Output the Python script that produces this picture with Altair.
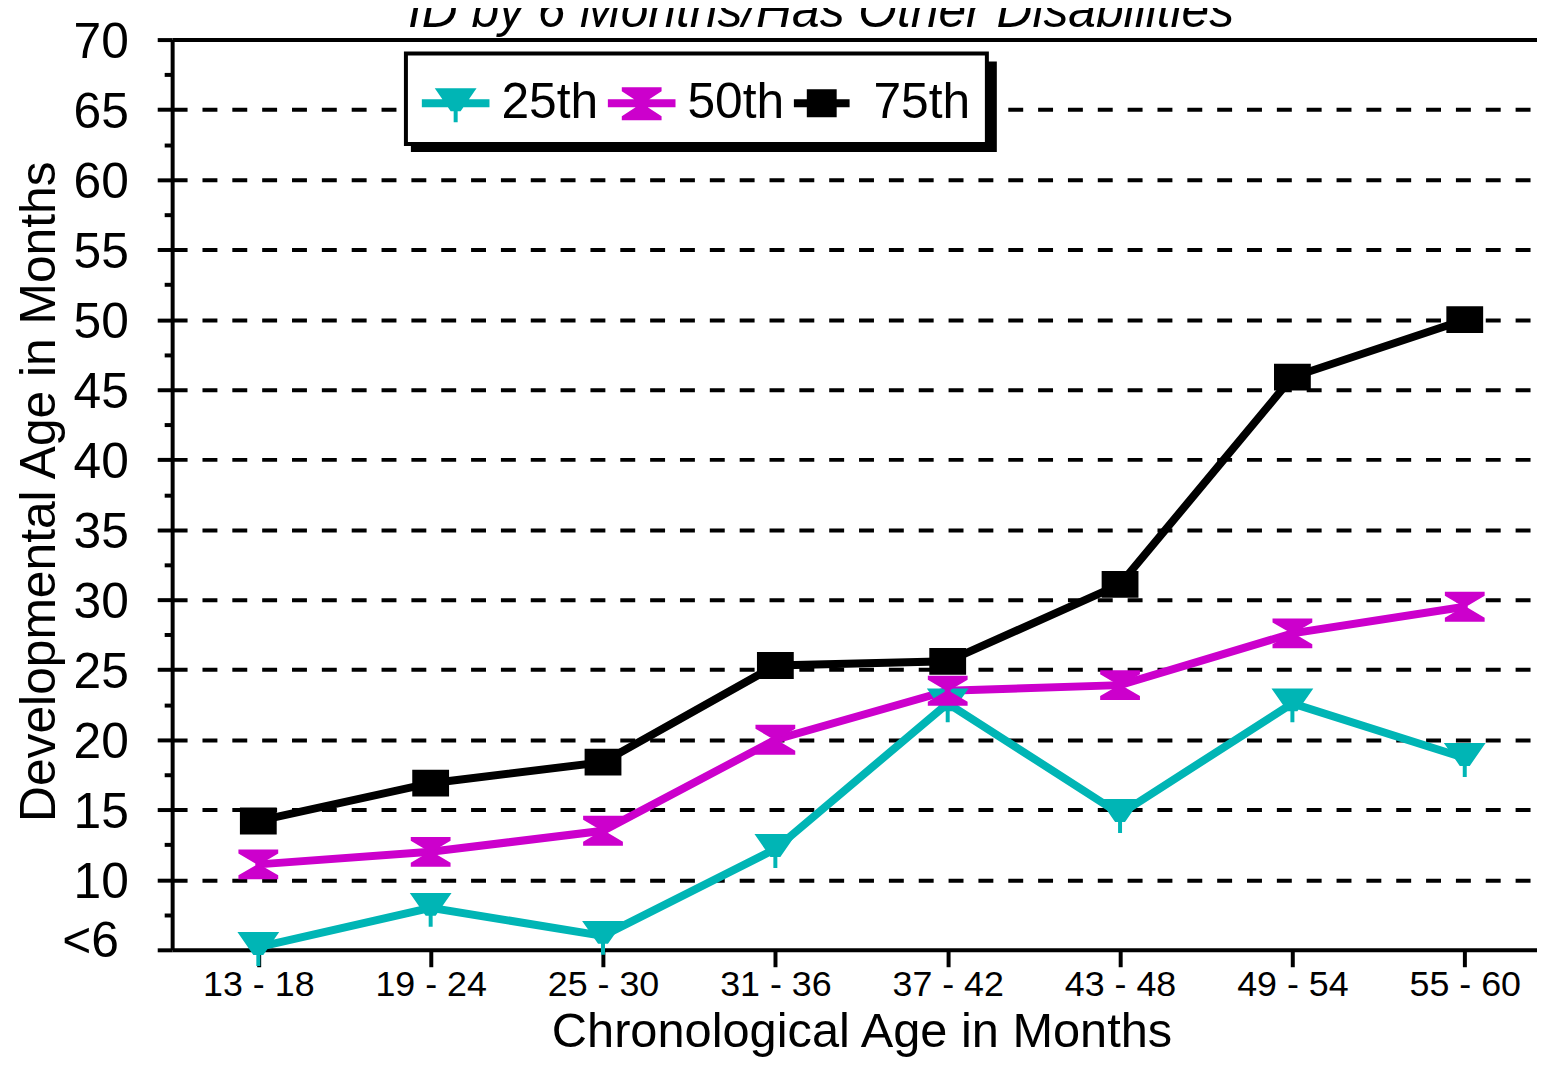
import altair as alt
import pandas as pd

FONT = "Liberation Sans, Arial, sans-serif"

chart_title = "ID by 6 Months/Has Other Disabilities"
x_title = "Chronological Age in Months"
y_title = "Developmental Age in Months"

categories = ["13 - 18", "19 - 24", "25 - 30", "31 - 36", "37 - 42", "43 - 48", "49 - 54", "55 - 60"]
series_names = ["25th", "50th", "75th"]
series_colors = ["#00B5B5", "#CC00CC", "#000000"]

p25 = [5.2, 8.0, 6.0, 12.2, 22.6, 14.7, 22.6, 18.7]
p50 = [11.1, 12.0, 13.5, 20.0, 23.5, 23.9, 27.6, 29.5]
p75 = [14.2, 16.9, 18.4, 25.3, 25.6, 31.1, 45.9, 50.0]

y_tick_values = [5, 7.5, 10, 12.5, 15, 17.5, 20, 22.5, 25, 27.5, 30, 32.5, 35, 37.5,
                 40, 42.5, 45, 47.5, 50, 52.5, 55, 57.5, 60, 62.5, 65, 67.5, 70]

rows = []
for name, vals in zip(series_names, [p25, p50, p75]):
    for c, v in zip(categories, vals):
        rows.append({"cat": c, "series": name, "value": v})
df = pd.DataFrame(rows)


def make_path(polys, half):
    parts = []
    for poly in polys:
        pts = ["%s%.3f,%.3f" % ("M" if i == 0 else "L", x / half, y / half) for i, (x, y) in enumerate(poly)]
        parts.append(" ".join(pts) + " Z")
    return " ".join(parts)


# chart markers (pixel outlines, normalised by 21 -> size 42^2)
tri_px = [(-21, -15), (21, -15), (5, 8), (2, 8), (2, 19), (-2, 19), (-2, 8), (-5, 8)]
hour_px = [(-20, -15), (20, -15), (20, -11), (3, -1), (3, 1), (20, 11), (20, 15),
           (-20, 15), (-20, 11), (-3, 1), (-3, -1), (-20, -11)]
sq_px = [(-18.5, -13.5), (18.5, -13.5), (18.5, 13.5), (-18.5, 13.5)]
marker_paths = [make_path([tri_px], 21), make_path([hour_px], 21), make_path([sq_px], 21)]

# legend symbols: line + marker (normalised by 34 -> size 68^2)
line_full = [(-34, -4), (34, -4), (34, 4), (-34, 4)]
legend_paths = [
    make_path([line_full, tri_px], 34),
    make_path([line_full, [(-20, -16), (20, -16), (20, -12), (3, -1), (3, 2), (20, 13), (20, 17),
                           (-20, 17), (-20, 13), (-3, 2), (-3, -1), (-20, -12)]], 34),
    make_path([[(-34, -4), (22, -4), (22, 4), (-34, 4)], [(-21, -14), (9, -14), (9, 14), (-21, 14)]], 34),
]

x_enc = alt.X(
    "cat:N",
    scale=alt.Scale(type="point", domain=categories, range=[0, 1386], padding=0.5),
    axis=alt.Axis(
        title=x_title, labelAngle=0, labelFont=FONT, labelFontSize=36, labelColor="black",
        labelPadding=1, tickSize=17, tickWidth=4, tickColor="black",
        domainWidth=4, domainColor="black", grid=False,
        titleFont=FONT, titleFontSize=49, titleFontWeight="normal", titleColor="black",
        titleX=693, titleY=97, titleAlign="center", titleBaseline="alphabetic",
    ),
)

y_enc = alt.Y(
    "value:Q",
    scale=alt.Scale(domain=[5, 70], nice=False, zero=False),
    axis=alt.Axis(
        values=y_tick_values,
        labelExpr="datum.value == 5 ? '<6' : (datum.value % 5 == 0 ? datum.label : '')",
        labelOverlap=False, labelFont=FONT, labelFontSize=50, labelColor="black",
        labelPadding={"condition": {"test": "datum.value == 5", "value": 39}, "value": 29},
        labelOffset={"condition": {"test": "datum.value == 5", "value": -8}, "value": 3},
        tickSize={"condition": {"test": "datum.value % 5 == 0", "value": 15}, "value": 8},
        tickWidth=4, tickColor="black", domainWidth=4, domainColor="black",
        grid=True, gridColor="black", gridWidth=4,
        gridDash={"condition": {"test": "datum.value == 70", "value": []}, "value": [15, 15]},
        gridOpacity={"condition": {"test": "datum.value % 5 != 0 || datum.value == 5", "value": 0}, "value": 1},
        title=y_title, titleFont=FONT, titleFontSize=50, titleFontWeight="normal", titleColor="black",
        titleAngle=270, titleX=-118, titleY=454, titleAlign="center", titleBaseline="alphabetic",
    ),
)

base = alt.Chart(df)

shadow = alt.Chart(pd.DataFrame({"k": [0]})).mark_rect(color="black").encode(
    x=alt.value(240), x2=alt.value(829), y=alt.value(22), y2=alt.value(113)
)

line_layers = []
point_layers = []
for name, col, path in zip(series_names, series_colors, marker_paths):
    sub = base.transform_filter(alt.datum.series == name)
    line_layers.append(sub.mark_line(strokeWidth=8, color=col).encode(x=x_enc, y=y_enc))
    point_layers.append(
        sub.mark_point(shape=path, filled=True, size=1764, opacity=1, strokeWidth=0, color=col)
        .encode(x=x_enc, y=y_enc)
    )

leg = alt.Legend(
    title=None, orient="none", legendX=235, legendY=14, direction="horizontal", columns=3,
    padding=16, columnPadding=9, fillColor="white", strokeColor="black",
    symbolSize=4624, symbolStrokeWidth=0, symbolOpacity=1,
    labelFont=FONT, labelFontSize=50, labelOffset=12, labelColor="black", labelLimit=300,
)

legend_layer = base.transform_filter("false").mark_point(filled=True, size=4624, opacity=1).encode(
    x=x_enc, y=y_enc,
    color=alt.Color("series:N", scale=alt.Scale(domain=series_names, range=series_colors), legend=leg),
    shape=alt.Shape("series:N", scale=alt.Scale(domain=series_names, range=legend_paths), legend=leg),
)

title_layer = alt.Chart(pd.DataFrame({"t": [chart_title]})).mark_text(
    font=FONT, fontSize=50, fontStyle="italic", align="left", baseline="alphabetic", color="black"
).encode(x=alt.value(237), y=alt.value(-13), text="t:N")

layers = [shadow] + line_layers + point_layers + [legend_layer, title_layer]

chart = alt.layer(*layers).properties(
    width=1372, height=915,
    autosize=alt.AutoSizeParams(type="none"),
    padding={"left": 165, "top": 29, "right": 0, "bottom": 106},
    background="white",
).configure_view(stroke="transparent").configure_legend(strokeWidth=4)

chart.save("out.html", embed_options={"renderer": "svg", "actions": False})
